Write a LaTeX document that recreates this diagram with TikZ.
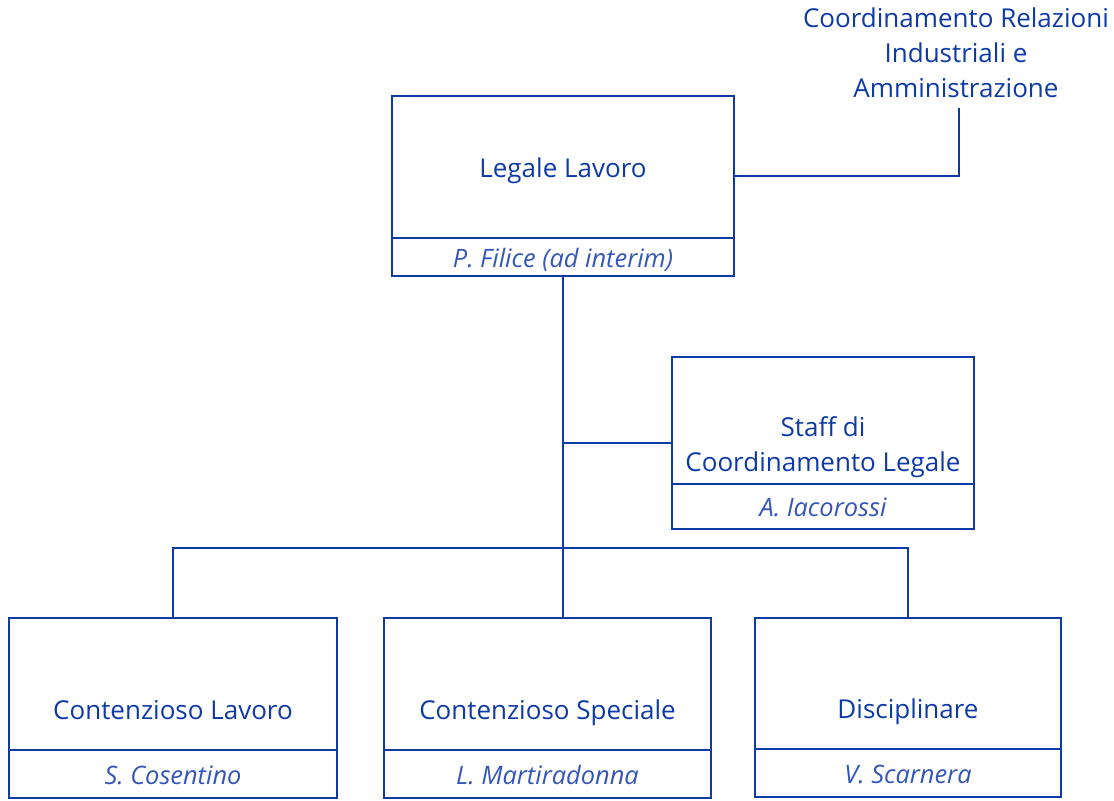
\documentclass[tikz,border=0pt]{standalone}
\usepackage{fontspec}
\setmainfont{Open Sans}
\usetikzlibrary{positioning}

\definecolor{orgblue}{RGB}{14,58,166}
\definecolor{whoblue}{RGB}{52,86,184}
\newcommand\headfont{\fontsize{13}{17.5}\selectfont}
\newcommand\whofont{\fontsize{12.7}{15}\selectfont\itshape}

\tikzset{
  unit/.style={draw=orgblue, line width=1pt, inner sep=0pt, outer sep=0pt},
  who/.style={unit, text=whoblue, font=\whofont, text height=11pt, text depth=1pt},
  head/.style={text=orgblue, font=\headfont, inner sep=0pt, align=center},
  link/.style={draw=orgblue, line width=0.8pt},
  spine/.style={draw=orgblue, line width=1.3pt}
}

\begin{document}
\begin{tikzpicture}[x=0.5pt, y=-0.5pt]
    \useasboundingbox (0,0) rectangle (1114,800);
    % Legale Lavoro
    \node[unit, minimum width=171pt, minimum height=71pt] (ll) at (563,167) {};
    \node[who, minimum width=171pt, minimum height=19pt] (lln) at (563,257) {P. Filice (ad interim)};
    \node[head, anchor=base] (llt) at (563,177) {Legale Lavoro};
    % Coordinamento Relazioni Industriali
    \node[head, anchor=base] (cr) at (956,97) {Coordinamento Relazioni\\Industriali e\\Amministrazione};
    \coordinate (crj) at (959,176);
    \coordinate (crt) at (959,108);
    \draw[link] (ll.east |- crj) -- (crj) -- (crt);
    % Staff
    \node[unit, minimum width=151pt, minimum height=63.5pt] (st) at (823,420.5) {};
    \node[who, minimum width=151pt, minimum height=22.5pt] (stn) at (823,506.5) {A. Iacorossi};
    \node[head, anchor=base] (stt) at (823,471) {Staff di\\Coordinamento Legale};
    % Uffici
    \node[unit, minimum width=164pt, minimum height=66pt] (cl) at (173,684) {};
    \node[who, minimum width=164pt, minimum height=24pt] (cln) at (173,774) {S. Cosentino};
    \node[head, anchor=base] (clt) at (173,719) {Contenzioso Lavoro};
    \node[unit, minimum width=163.5pt, minimum height=66pt] (cs) at (547.5,684) {};
    \node[who, minimum width=163.5pt, minimum height=24pt] (csn) at (547.5,774) {L. Martiradonna};
    \node[head, anchor=base] (cst) at (547.5,719) {Contenzioso Speciale};
    \node[unit, minimum width=153pt, minimum height=65.5pt] (di) at (908,683.5) {};
    \node[who, minimum width=153pt, minimum height=24pt] (din) at (908,773) {V. Scarnera};
    \node[head, anchor=base] (dit) at (908,718) {Disciplinare};
    % collegamenti
    \coordinate (sj) at (563,443);
    \coordinate (bj) at (563,548);
    \draw[spine] (lln.south) -- (bj);
    \draw[link] (sj) -- (sj -| st.west);
    \draw[link] (cl.north) |- (bj) -| (di.north);
    \draw[link] (bj) -- (bj |- cs.north);
\end{tikzpicture}
\end{document}
